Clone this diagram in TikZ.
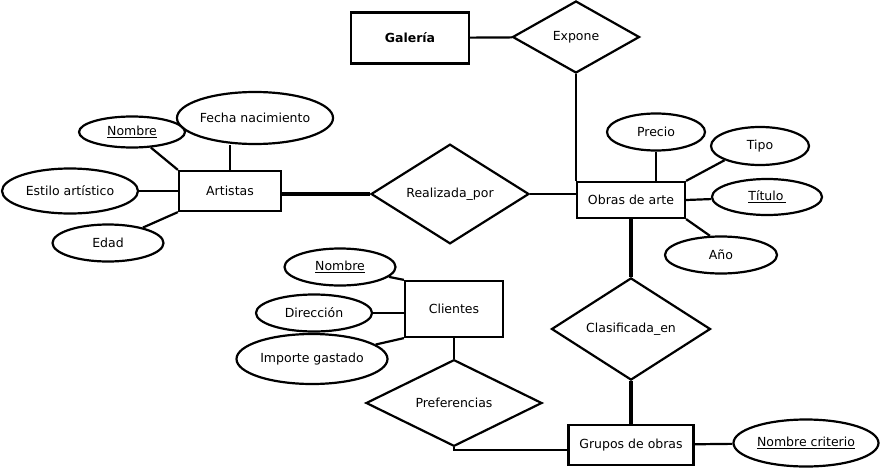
\documentclass[tikz,border=0pt]{standalone}
\usepackage{fontspec}
\setmainfont{DejaVu Sans}
\usetikzlibrary{shapes.geometric}
\begin{document}
\begin{tikzpicture}[x=1pt, y=-1pt, line width=2.2pt,
    every node/.style={font=\fontsize{12.5}{15}\selectfont, inner sep=0pt},
    entidad/.style={rectangle, draw},
    atributo/.style={ellipse, draw},
    relacion/.style={diamond, draw},
    fuerte/.style={line width=4.5pt}]
    \useasboundingbox (0,0) rectangle (881,471);
    % Entities
    \node[entidad, minimum width=118, minimum height=51] (galeria) at (410,38) {\textbf{Galería}};
    \node[entidad, minimum width=102, minimum height=40] (artistas) at (230,191) {Artistas};
    \node[entidad, minimum width=108, minimum height=36] (obras) at (631,200) {Obras de arte};
    \node[entidad, minimum width=98, minimum height=56] (clientes) at (454,309) {Clientes};
    \node[entidad, minimum width=125, minimum height=40] (grupos) at (631,445) {Grupos de obras};
    % Relationships
    \node[relacion, minimum width=127, minimum height=72] (expone) at (576,37) {Expone};
    \node[relacion, minimum width=158, minimum height=99] (realizada) at (450,194) {Realizada\_por};
    \node[relacion, minimum width=159, minimum height=100] (clasificada) at (631,329) {Clasificada\_en};
    \node[relacion, minimum width=176, minimum height=70] (preferencias) at (454,403) {Preferencias};
    % Attributes of Artistas
    \node[atributo, minimum width=106, minimum height=31] (nombreA) at (132,132) {\underline{Nombre}};
    \node[atributo, minimum width=155, minimum height=52] (fecha) at (255,118) {Fecha nacimiento};
    \node[atributo, minimum width=136, minimum height=45] (estilo) at (70,191) {Estilo artístico};
    \node[atributo, minimum width=111, minimum height=37] (edad) at (108,243) {Edad};
    % Attributes of Obras de arte
    \node[atributo, minimum width=98, minimum height=37] (precio) at (656,132) {Precio};
    \node[atributo, minimum width=98, minimum height=38] (tipo) at (760,146) {Tipo};
    \node[atributo, minimum width=110, minimum height=36] (titulo) at (767,197) {\underline{Título\,}};
    \node[atributo, minimum width=112, minimum height=37] (anio) at (721,255) {Año};
    % Attributes of Clientes
    \node[atributo, minimum width=111, minimum height=37] (nombreC) at (340,267) {\underline{Nombre}};
    \node[atributo, minimum width=116, minimum height=37] (direccion) at (314,313) {Dirección};
    \node[atributo, minimum width=151, minimum height=50] (importe) at (312,359) {Importe gastado};
    % Attribute of Grupos de obras
    \node[atributo, minimum width=145, minimum height=47] (criterio) at (806,443) {\underline{Nombre criterio}};
    % Edges
    \draw (galeria) -- (expone);
    \draw (expone.south) -- (expone.south |- obras.north);
    \draw[fuerte] (realizada.west -| artistas.east) -- (realizada.west);
    \draw (realizada.east) -- (realizada.east -| obras.west);
    \draw[fuerte] (obras) -- (clasificada);
    \draw[fuerte] (clasificada) -- (grupos);
    \draw (clientes) -- (preferencias);
    \draw (preferencias.south) |- ([yshift=-5pt]grupos.west);
    % Attribute edges
    \draw (nombreA) -- (artistas.north west);
    \draw (artistas.north) -- (artistas.north |- fecha.south);
    \draw (estilo) -- (artistas);
    \draw (edad) -- (artistas.south west);
    \draw (precio) -- (precio |- obras.north);
    \draw (tipo.south west) -- (obras.north east);
    \draw (titulo) -- (obras.east);
    \draw (anio.120) -- (obras.south east);
    \draw (nombreC) -- (clientes.north west);
    \draw (direccion) -- (direccion -| clientes.west);
    \draw (importe) -- (clientes.south west);
    \draw (grupos) -- (criterio);
\end{tikzpicture}
\end{document}
